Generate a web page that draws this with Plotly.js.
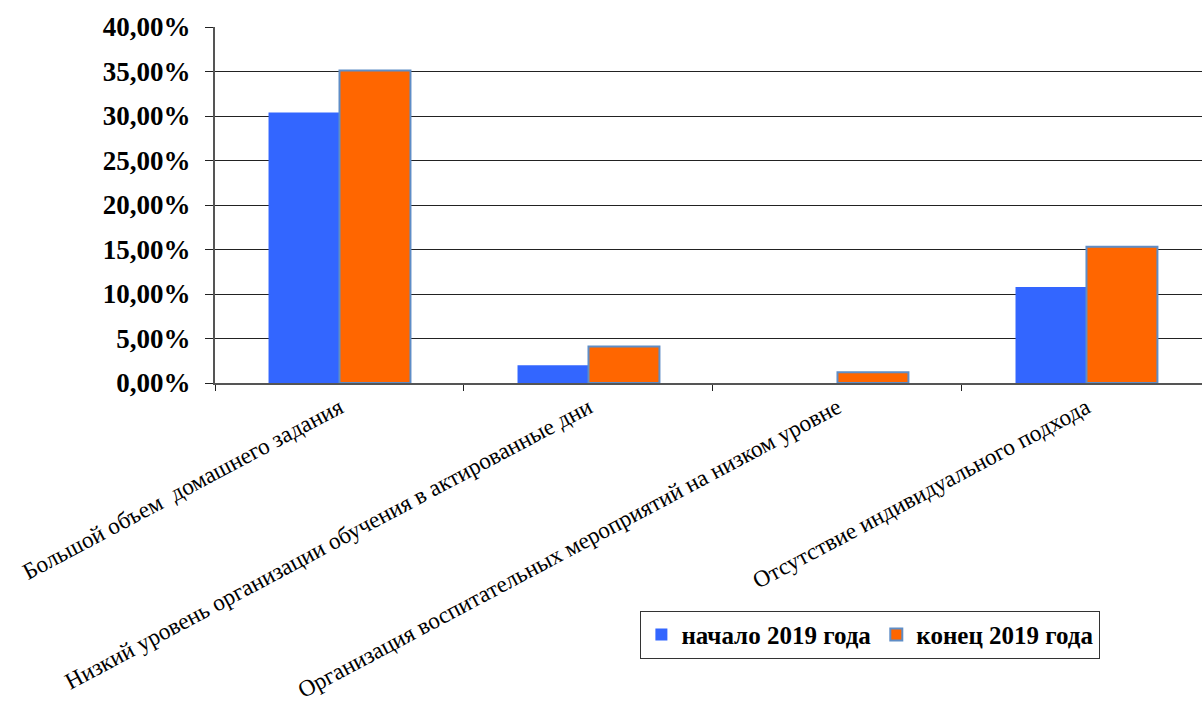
<!DOCTYPE html>
<html>
<head>
<meta charset="utf-8">
<script src="https://cdn.plot.ly/plotly-3.0.1.min.js"></script>
<style>html,body{margin:0;padding:0;background:#fff;}#chart{width:1202px;height:702px;}</style>
</head>
<body>
<div id="chart"></div>
<script>
const categories = [
  "Большой объем  домашнего задания",
  "Низкий уровень организации обучения в актированные дни",
  "Организация воспитательных мероприятий на низком уровне",
  "Отсутствие индивидуального подхода"
];
const seriesNames = ["начало 2019 года", "конец 2019 года"];
const startValues = [0.304, 0.020, 0.000, 0.108];
const endValues = [0.351, 0.041, 0.012, 0.153];

const SERIF = 'Liberation Serif';

const data = [
  {
    type: 'bar', name: seriesNames[0], x: categories, y: startValues,
    marker: {color: '#3366ff', line: {color: '#3366ff', width: 0}},
    hoverinfo: 'skip'
  },
  {
    type: 'bar', name: seriesNames[1], x: categories, y: endValues,
    marker: {color: '#ff6600', line: {color: '#5f8dc6', width: 2}},
    hoverinfo: 'skip'
  }
];

const layout = {
  width: 1202, height: 702,
  margin: {l: 215, r: 0, t: 27, b: 319},
  paper_bgcolor: '#ffffff', plot_bgcolor: '#ffffff',
  separators: ', ',
  barmode: 'group', bargap: 0.43, bargroupgap: 0,
  font: {family: SERIF, color: '#000'},
  xaxis: {
    type: 'category',
    range: [-0.5, 3.464],
    tickangle: -28,
    tickfont: {size: 23.3, family: SERIF, color: '#000'},
    ticks: 'outside', tickson: 'boundaries', ticklen: 6, tickcolor: '#222', tickwidth: 1,
    showline: true, linecolor: '#555', linewidth: 2,
    showgrid: false, zeroline: false, fixedrange: true
  },
  yaxis: {
    range: [0, 0.4], dtick: 0.05, tickformat: '.2%',
    tickfont: {size: 27, family: SERIF, color: '#000', weight: 'bold'},
    ticks: 'outside', ticklen: 8, tickcolor: '#222', tickwidth: 1,
    showline: true, linecolor: '#555', linewidth: 2,
    showgrid: true, gridcolor: '#222', gridwidth: 1,
    zeroline: false, ticklabelstandoff: 9, fixedrange: true
  },
  legend: {
    orientation: 'h', x: 0.431, y: -0.64, xanchor: 'left', yanchor: 'top',
    bordercolor: '#333', borderwidth: 1, bgcolor: '#fff',
    font: {size: 25, family: SERIF, color: '#000', weight: 'bold'},
    itemwidth: 30, tracegroupgap: 0, traceorder: 'normal'
  },
  showlegend: true
};

Plotly.newPlot('chart', data, layout, {displayModeBar: false, staticPlot: true});
</script>
</body>
</html>
